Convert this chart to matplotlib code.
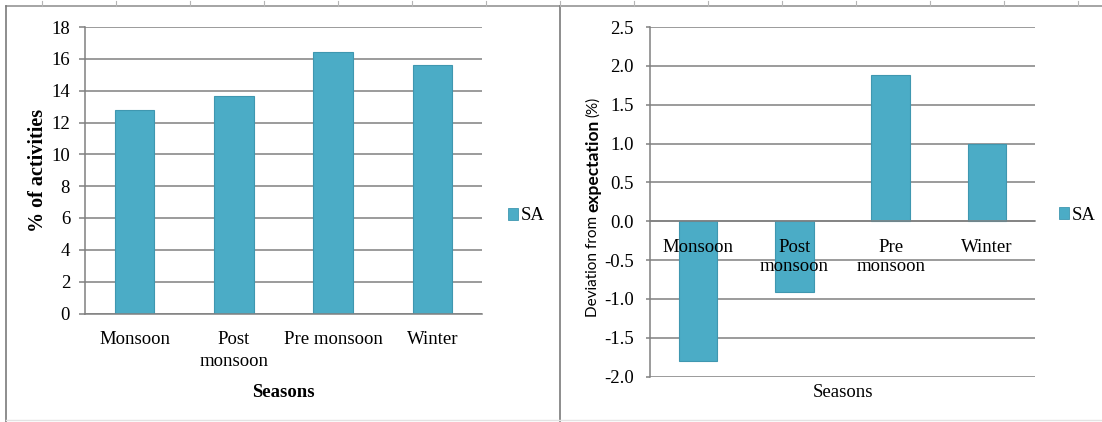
import numpy as np
import matplotlib
matplotlib.use("Agg")
import matplotlib.pyplot as plt
from matplotlib.lines import Line2D
from matplotlib.patches import Patch

# ---- data -------------------------------------------------------------
seasons_left = ["Monsoon", "Post\nmonsoon", "Pre monsoon", "Winter"]
seasons_right = ["Monsoon", "Post\nmonsoon", "Pre\nmonsoon", "Winter"]
activity_pct = [12.8, 13.65, 16.45, 15.6]
deviation_pct = [-1.8, -0.91, 1.88, 1.0]
series_name = "SA"

left_yticks = [0, 2, 4, 6, 8, 10, 12, 14, 16, 18]
right_yticks = [-2.0, -1.5, -1.0, -0.5, 0.0, 0.5, 1.0, 1.5, 2.0, 2.5]

# ---- style ------------------------------------------------------------
W, H = 1102, 422
BAR = "#4bacc6"
BAR_EDGE = "#3f97b0"
GRID = "#808080"
SERIF = "Liberation Serif"
FS = 13.5

plt.rcParams["font.family"] = SERIF

fig = plt.figure(figsize=(W / 100, H / 100), dpi=100)
fig.patch.set_facecolor("white")


def fx(x):
    return x / W


def fy(y):
    return 1 - y / H


def axes_rect(x0, x1, ytop, ybot):
    return [fx(x0), fy(ybot), (x1 - x0) / W, (ybot - ytop) / H]


def style_axes(ax, tick_len, tick_pad):
    ax.set_axisbelow(True)
    ax.yaxis.grid(True, color=GRID, linewidth=1.1)
    for side in ("top", "right"):
        ax.spines[side].set_visible(False)
    for side in ("left", "bottom"):
        ax.spines[side].set_color(GRID)
        ax.spines[side].set_linewidth(1.1)
    ax.tick_params(axis="y", length=tick_len, width=1.1, color=GRID,
                   pad=tick_pad, labelsize=FS)
    ax.tick_params(axis="x", length=0, labelsize=FS, pad=12.5)
    for lab in ax.get_xticklabels():
        lab.set_linespacing(1.38)
    # category labels sit above the bars; the y grid stays behind them
    ax.xaxis.set_zorder(3)


# ---- left panel: share of activities --------------------------------
ax1 = fig.add_axes(axes_rect(85, 482, 27, 313.5))
x = np.arange(len(seasons_left))
ax1.bar(x, activity_pct, width=0.4, color=BAR, edgecolor=BAR_EDGE,
        linewidth=0.8, label=series_name, zorder=2)
ax1.set_xlim(-0.5, 3.5)
ax1.set_ylim(0, 18)
ax1.set_yticks(left_yticks, [str(v) for v in left_yticks])
ax1.set_xticks(x, seasons_left)
style_axes(ax1, tick_len=4.3, tick_pad=6.5)
ax1.set_xlabel("Seasons", fontsize=FS, fontweight="bold")
ax1.xaxis.set_label_coords(0.5, -0.245)
ax1.set_ylabel("% of activities", fontsize=14.5, fontweight="bold")
ax1.yaxis.set_label_coords(-0.092, 0.5)

# ---- right panel: deviation from expectation -------------------------
ax2 = fig.add_axes(axes_rect(650, 1035, 27, 376.7))
x2 = np.arange(len(seasons_right))
ax2.bar(x2, deviation_pct, width=0.4, color=BAR, edgecolor=BAR_EDGE,
        linewidth=0.8, label=series_name, zorder=2)
ax2.set_xlim(-0.5, 3.5)
ax2.set_ylim(-2.0, 2.5)
ax2.set_yticks(right_yticks, [f"{v:.1f}" for v in right_yticks])
ax2.set_xticks(x2, seasons_right)
style_axes(ax2, tick_len=3.2, tick_pad=8.3)
ax2.spines["bottom"].set_position(("data", 0.0))
ax2.set_xlabel("Seasons", fontsize=FS)
ax2.xaxis.set_label_coords(0.5, -0.021)

# y label with mixed typefaces, built from chained pieces
t1 = fig.text(fx(593), fy(317), "Deviation from", rotation=90,
              ha="center", va="bottom", family="Lato", fontsize=11)
t2 = fig.add_artist(plt.Annotation(
    "expectation", xy=(0.5, 1.0), xycoords=t1, xytext=(0, 2.5),
    textcoords="offset points", rotation=90, ha="center", va="bottom",
    family="Lato", fontweight="bold", fontsize=12.5))
t3 = fig.add_artist(plt.Annotation(
    "(%)", xy=(0.5, 1.0), xycoords=t2, xytext=(0, 2.5),
    textcoords="offset points", rotation=90, ha="center", va="bottom",
    family="Lato", fontsize=11))

# ---- legends ----------------------------------------------------------
def add_legend(ax, x_px, y_px):
    handle = Patch(facecolor=BAR, edgecolor=BAR_EDGE, linewidth=0.6)
    ax.legend([handle], [series_name], loc="center left",
              bbox_to_anchor=(fx(x_px), fy(y_px)),
              bbox_transform=fig.transFigure, frameon=False,
              borderpad=0, borderaxespad=0, handlelength=0.55,
              handleheight=0.55, handletextpad=0.15,
              prop={"family": SERIF, "size": FS})


add_legend(ax1, 508, 216)
add_legend(ax2, 1059, 215)

# ---- sheet frame around the two charts -------------------------------
frame_dark = "#7a7a7a"
fig.add_artist(Line2D([fx(6), fx(W)], [fy(6), fy(6)], color="#8c8c8c",
                      linewidth=1.1))
fig.add_artist(Line2D([fx(6), fx(6)], [fy(6), fy(H)], color=frame_dark,
                      linewidth=1.2))
fig.add_artist(Line2D([fx(560), fx(560)], [fy(6), fy(H)], color=frame_dark,
                      linewidth=1.2))
fig.add_artist(Line2D([fx(6), fx(W)], [fy(420), fy(420)], color="#e3e3e3",
                      linewidth=1.0))
for cx in np.arange(41.7, W, 74.0):
    fig.add_artist(Line2D([fx(cx), fx(cx)], [fy(1), fy(6)], color="#b5b5b5",
                          linewidth=0.8))

fig.savefig("out.png", dpi=100, facecolor="white")
